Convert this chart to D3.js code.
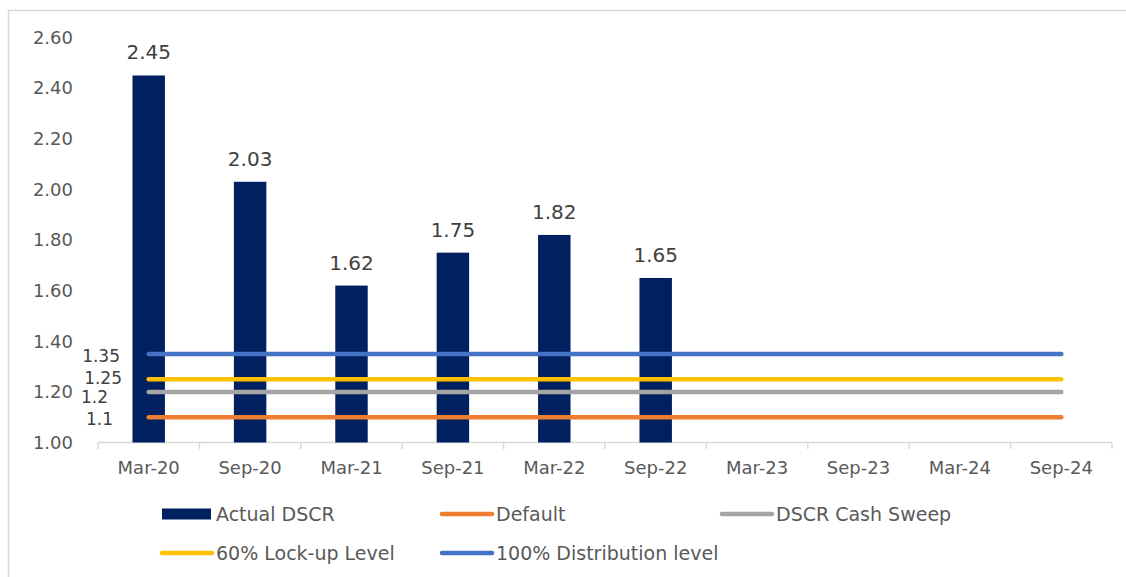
<!DOCTYPE html>
<html>
<head>
<meta charset="utf-8">
<script src="https://cdn.jsdelivr.net/npm/d3@7"></script>
<style>
  body { margin: 0; background: #fff; }
  text { font-family: "DejaVu Sans", sans-serif; }
</style>
</head>
<body>
<div id="chart"></div>
<script>
var periods = ['Mar-20', 'Sep-20', 'Mar-21', 'Sep-21', 'Mar-22', 'Sep-22', 'Mar-23', 'Sep-23', 'Mar-24', 'Sep-24'];
var actualDscr = [2.45, 2.03, 1.62, 1.75, 1.82, 1.65, null, null, null, null];
var levelNames = ['Default', 'DSCR Cash Sweep', '60% Lock-up Level', '100% Distribution level'];
var levelValues = [1.1, 1.2, 1.25, 1.35];
var yTicks = [1.00, 1.20, 1.40, 1.60, 1.80, 2.00, 2.20, 2.40, 2.60];

var levelColors = ['#ed7d31', '#a5a5a5', '#ffc000', '#4472c4'];
var barColor = '#002060';

var width = 1126, height = 577;
var svg = d3.select('#chart').append('svg')
  .attr('width', width)
  .attr('height', height);

// chart frame
svg.append('rect')
  .attr('x', 8.5).attr('y', 10.5)
  .attr('width', width + 10).attr('height', height + 10)
  .attr('fill', 'none')
  .attr('stroke', '#d9d9d9')
  .attr('stroke-width', 1.5);

var x = d3.scaleBand().domain(periods).range([98, 1112]).paddingInner(0.68).paddingOuter(0.34);
var xc = d3.scalePoint().domain(periods).range([98, 1112]).padding(0.5);
var y = d3.scaleLinear().domain([1.0, 2.6]).range([442.5, 37.5]);

// y axis labels
svg.append('g').selectAll('text')
  .data(yTicks)
  .enter().append('text')
  .attr('x', 73)
  .attr('y', function(d) { return y(d); })
  .attr('dy', '0.35em')
  .attr('text-anchor', 'end')
  .attr('font-size', '18px')
  .attr('fill', '#595959')
  .text(function(d) { return d.toFixed(2); });

// x axis
var gx = svg.append('g');
gx.append('line')
  .attr('x1', 98).attr('x2', 1112)
  .attr('y1', 442.5).attr('y2', 442.5)
  .attr('stroke', '#d9d9d9').attr('stroke-width', 1.5);
var boundaries = periods.map(function(p) { return x(p) - x.step() * x.paddingInner() / 2; }).concat([1112]);
gx.selectAll('.tk')
  .data(boundaries)
  .enter().append('line')
  .attr('x1', function(d) { return d; }).attr('x2', function(d) { return d; })
  .attr('y1', 442.5).attr('y2', 449)
  .attr('stroke', '#d9d9d9').attr('stroke-width', 1.5);
gx.selectAll('.lbl')
  .data(periods)
  .enter().append('text')
  .attr('x', function(d) { return xc(d); })
  .attr('y', 474)
  .attr('text-anchor', 'middle')
  .attr('font-size', '18px')
  .attr('fill', '#595959')
  .text(function(d) { return d; });

// bars
var barData = periods.map(function(p, i) { return {p: p, v: actualDscr[i]}; })
  .filter(function(d) { return d.v != null; });

svg.append('g').selectAll('rect')
  .data(barData)
  .enter().append('rect')
  .attr('x', function(d) { return x(d.p); })
  .attr('width', x.bandwidth())
  .attr('y', function(d) { return y(d.v); })
  .attr('height', function(d) { return y(1.0) - y(d.v); })
  .attr('fill', barColor);

svg.append('g').selectAll('text')
  .data(barData)
  .enter().append('text')
  .attr('x', function(d) { return xc(d.p); })
  .attr('y', function(d) { return y(d.v) - 16; })
  .attr('text-anchor', 'middle')
  .attr('font-size', '20px')
  .attr('fill', '#404040')
  .text(function(d) { return d.v.toFixed(2); });

// threshold lines
var line = d3.line()
  .x(function(d) { return xc(d.p); })
  .y(function(d) { return y(d.v); });

levelValues.forEach(function(v, i) {
  var pts = periods.map(function(p) { return {p: p, v: v}; });
  svg.append('path')
    .datum(pts)
    .attr('d', line)
    .attr('fill', 'none')
    .attr('stroke', levelColors[i])
    .attr('stroke-width', 4.5)
    .attr('stroke-linecap', 'round');
});

// line labels at first point
var labelOffsets = [2, 5, -1, 2];
svg.append('g').selectAll('text')
  .data(levelValues)
  .enter().append('text')
  .attr('x', function(d, i) { return [113, 108, 122, 120][i]; })
  .attr('y', function(d, i) { return y(d) + labelOffsets[i]; })
  .attr('dy', '0.35em')
  .attr('text-anchor', 'end')
  .attr('font-size', '17px')
  .attr('fill', '#404040')
  .text(function(d) { return String(d); });

// legend
var legendItems = [
  {name: 'Actual DSCR', type: 'bar', color: barColor, x: 162, y: 514},
  {name: levelNames[0], type: 'line', color: levelColors[0], x: 441, y: 514},
  {name: levelNames[1], type: 'line', color: levelColors[1], x: 721, y: 514},
  {name: levelNames[2], type: 'line', color: levelColors[2], x: 161, y: 553},
  {name: levelNames[3], type: 'line', color: levelColors[3], x: 441, y: 553}
];

var lg = svg.append('g').selectAll('g')
  .data(legendItems)
  .enter().append('g')
  .attr('transform', function(d) { return 'translate(' + d.x + ',' + d.y + ')'; });

lg.filter(function(d) { return d.type === 'bar'; })
  .append('rect')
  .attr('x', 0).attr('y', -5.5)
  .attr('width', 49).attr('height', 11)
  .attr('fill', function(d) { return d.color; });

lg.filter(function(d) { return d.type === 'line'; })
  .append('line')
  .attr('x1', 1).attr('x2', 51)
  .attr('y1', 0).attr('y2', 0)
  .attr('stroke', function(d) { return d.color; })
  .attr('stroke-width', 4.5)
  .attr('stroke-linecap', 'round');

lg.append('text')
  .attr('x', function(d) { return d.type === 'bar' ? 54 : 55; })
  .attr('y', 0)
  .attr('dy', '0.35em')
  .attr('font-size', '19px')
  .attr('fill', '#595959')
  .text(function(d) { return d.name; });
</script>
</body>
</html>
